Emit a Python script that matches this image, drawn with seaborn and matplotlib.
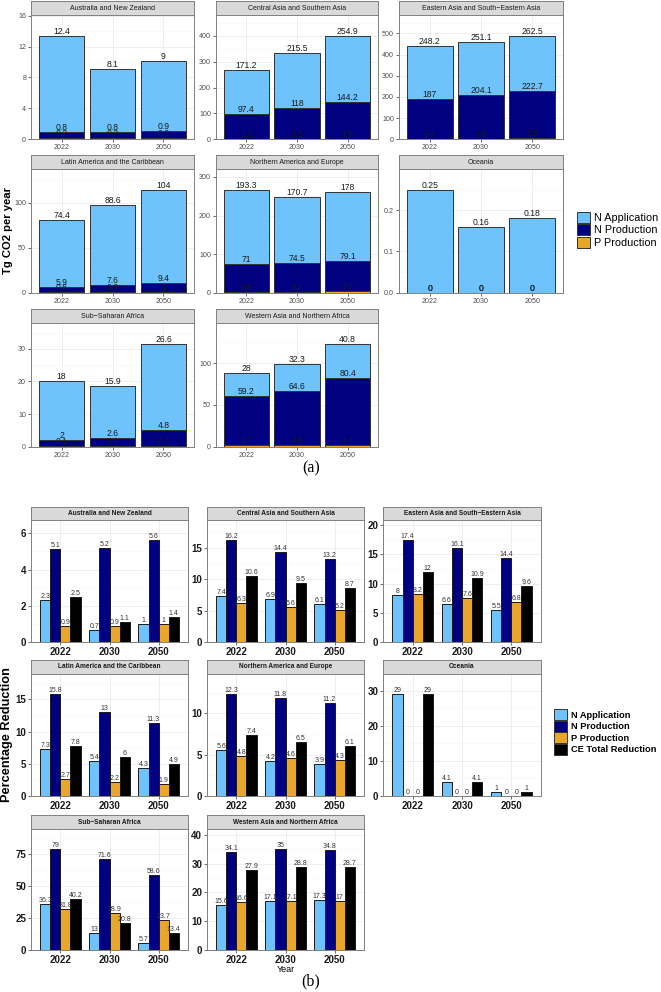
import matplotlib
matplotlib.use("Agg")
import matplotlib.pyplot as plt
from matplotlib.patches import Patch
from matplotlib.ticker import AutoMinorLocator
import pandas as pd
import seaborn as sns

plt.rcParams['font.family'] = ['Liberation Sans', 'DejaVu Sans']

# ---- data ----
regions = [
    "Australia and New Zealand",
    "Central Asia and Southern Asia",
    "Eastern Asia and South\u2212Eastern Asia",
    "Latin America and the Caribbean",
    "Northern America and Europe",
    "Oceania",
    "Sub\u2212Saharan Africa",
    "Western Asia and Northern Africa",
]
years = ["2022", "2030", "2050"]

# (a) emissions, Tg CO2 per year
em_n_application = [[12.4, 8.1, 9], [171.2, 215.5, 254.9], [248.2, 251.1, 262.5], [74.4, 88.6, 104],
                    [193.3, 170.7, 178], [0.25, 0.16, 0.18], [18, 15.9, 26.6], [28, 32.3, 40.8]]
em_n_production = [[0.8, 0.8, 0.9], [97.4, 118, 144.2], [187, 204.1, 222.7], [5.9, 7.6, 9.4],
                   [71, 74.5, 79.1], [0, 0, 0], [2, 2.6, 4.8], [59.2, 64.6, 80.4]]
em_p_production = [[0.2, 0.2, 0.2], [1.3, 1.5, 1.9], [3.3, 3.6, 3.8], [0.6, 0.8, 1],
                   [2.9, 3.1, 3.2], [0, 0, 0], [0.1, 0.1, 0.2], [1.7, 1.9, 2.4]]
em_yticks = [[0, 4, 8, 12, 16], [0, 100, 200, 300, 400], [0, 100, 200, 300, 400, 500], [0, 50, 100],
             [0, 100, 200, 300], [0.0, 0.1, 0.2], [0, 10, 20, 30], [0, 50, 100]]

# (b) percentage reduction
pr_n_application = [[2.3, 0.7, 1], [7.4, 6.9, 6.1], [8, 6.6, 5.5], [7.3, 5.4, 4.3],
                    [5.6, 4.2, 3.9], [29, 4.1, 1], [36.3, 13, 5.7], [15.6, 17.1, 17.3]]
pr_n_production = [[5.1, 5.2, 5.6], [16.2, 14.4, 13.2], [17.4, 16.1, 14.4], [15.8, 13, 11.3],
                   [12.3, 11.8, 11.2], [0, 0, 0], [79, 71.6, 58.6], [34.1, 35, 34.8]]
pr_p_production = [[0.9, 0.9, 1], [6.3, 5.6, 5.2], [8.2, 7.6, 6.8], [2.7, 2.2, 1.9],
                   [4.8, 4.6, 4.3], [0, 0, 0], [31.8, 28.9, 23.7], [16.6, 17.1, 17]]
pr_ce_total = [[2.5, 1.1, 1.4], [10.6, 9.5, 8.7], [12, 10.9, 9.6], [7.8, 6, 4.9],
               [7.4, 6.5, 6.1], [29, 4.1, 1], [40.2, 20.8, 13.4], [27.9, 28.8, 28.7]]
pr_yticks = [[0, 2, 4, 6], [0, 5, 10, 15], [0, 5, 10, 15, 20], [0, 5, 10, 15],
             [0, 5, 10], [0, 10, 20, 30], [0, 25, 50, 75], [0, 10, 20, 30, 40]]

sources = ["N Application", "N Production", "P Production", "CE Total Reduction"]
colors = {"N Application": "#6EC3FC", "N Production": "#000080",
          "P Production": "#E9A62B", "CE Total Reduction": "#000000"}

em_rows = []
for i, r in enumerate(regions):
    for j, y in enumerate(years):
        em_rows.append({"region": r, "year": y,
                        "n_app": em_n_application[i][j],
                        "n_prod": em_n_production[i][j],
                        "p_prod": em_p_production[i][j]})
em = pd.DataFrame(em_rows)
em["low"] = em["p_prod"]
em["mid"] = em["p_prod"] + em["n_prod"]
em["top"] = em["mid"] + em["n_app"]

pr_rows = []
for i, r in enumerate(regions):
    for j, y in enumerate(years):
        for s, vals in zip(sources, [pr_n_application, pr_n_production, pr_p_production, pr_ce_total]):
            pr_rows.append({"region": r, "year": y, "source": s, "value": vals[i][j]})
pr = pd.DataFrame(pr_rows)

# ---- layout (pixels) ----
W, H = 661, 992
fig = plt.figure(figsize=(W / 100, H / 100), dpi=100)


def px_axes(x0, y0, x1, y1):
    return fig.add_axes([x0 / W, 1 - y1 / H, (x1 - x0) / W, (y1 - y0) / H])


def add_strip(x0, y0, x1, y1, text, size, weight):
    s = px_axes(x0, y0, x1, y1)
    s.set_facecolor("#D9D9D9")
    s.set_xticks([])
    s.set_yticks([])
    for sp in s.spines.values():
        sp.set_color("#808080")
        sp.set_linewidth(0.7)
    s.text(0.5, 0.5, text, ha="center", va="center", fontsize=size, weight=weight, color="#1A1A1A",
           transform=s.transAxes)


def style_panel(ax, ymax, ticks, size, color, weight):
    ax.set_xlim(-0.6, 2.6)
    ax.set_ylim(0, ymax)
    ax.set_yticks(ticks)
    ax.yaxis.set_minor_locator(AutoMinorLocator(2))
    ax.set_axisbelow(True)
    ax.grid(which="major", color="#EBEBEB", lw=0.6)
    ax.grid(which="minor", axis="y", color="#F5F5F5", lw=0.4)
    ax.set_xlabel("")
    ax.set_ylabel("")
    ax.tick_params(which="major", length=2, width=0.5, color="#333333", labelsize=size,
                   labelcolor=color, pad=1.5)
    ax.tick_params(which="minor", length=0)
    for lab in ax.get_xticklabels() + ax.get_yticklabels():
        lab.set_fontweight(weight)
    for sp in ax.spines.values():
        sp.set_color("#808080")
        sp.set_linewidth(0.7)


cols_a = [(31, 194), (216, 378), (399, 563)]
rows_a = [(1, 15, 139.3), (155, 169, 292.7), (309, 323, 446.7)]
cols_b = [(31, 188), (207, 364), (383, 541)]
rows_b = [(507, 520, 642.3), (660, 674, 796), (815, 829, 950)]

# ---- (a) stacked emissions ----
for k, r in enumerate(regions):
    x0, x1 = cols_a[k % 3]
    s0, p0, p1 = rows_a[k // 3]
    add_strip(x0, s0, x1, p0, r, 5.0, "normal")
    ax = px_axes(x0, p0, x1, p1)
    sub = em[em["region"] == r]
    for col, src, lab in [("top", "N Application", "n_app"), ("mid", "N Production", "n_prod"),
                          ("low", "P Production", "p_prod")]:
        sns.barplot(data=sub, x="year", y=col, color=colors[src], saturation=1, width=0.9,
                    edgecolor="#333333", linewidth=0.7, errorbar=None, ax=ax)
        ax.bar_label(ax.containers[-1], labels=[f"{v:g}" for v in sub[lab]], fontsize=6.2,
                     padding=0, color="#1A1A1A")
    style_panel(ax, 1.2 * sub["top"].max(), em_yticks[k], 5.1, "#4D4D4D", "normal")

fig.text(8 / W, 1 - 231 / H, "Tg CO2 per year", rotation=90, ha="center", va="center",
         fontsize=8.1, weight="bold", color="#000000")
fig.legend(handles=[Patch(facecolor=colors[s], edgecolor="#333333", lw=0.7, label=s) for s in sources[:3]],
           loc="upper left", bbox_to_anchor=(577 / W, 1 - 212 / H), frameon=False, fontsize=7.8,
           handlelength=1.2, handleheight=1.2, handletextpad=0.4, labelspacing=0.1,
           borderpad=0, borderaxespad=0)
fig.text(311 / W, 1 - 468 / H, "(a)", ha="center", va="center", fontsize=11.5,
         family="Liberation Serif")

# ---- (b) percentage reduction ----
for k, r in enumerate(regions):
    x0, x1 = cols_b[k % 3]
    s0, p0, p1 = rows_b[k // 3]
    add_strip(x0, s0, x1, p0, r, 4.7, "bold")
    ax = px_axes(x0, p0, x1, p1)
    sub = pr[pr["region"] == r]
    sns.barplot(data=sub, x="year", y="value", hue="source", hue_order=sources, palette=colors,
                saturation=1, width=0.82, edgecolor="#1A1A1A", linewidth=0.7, errorbar=None,
                legend=False, ax=ax)
    for c in ax.containers:
        ax.bar_label(c, fmt="%g", fontsize=5, padding=0, color="#333333")
    style_panel(ax, 1.2 * sub["value"].max(), pr_yticks[k], 7, "#1A1A1A", "bold")

fig.text(7.5 / W, 1 - 735 / H, "Percentage Reduction", rotation=90, ha="center", va="center",
         fontsize=9.2, weight="bold", color="#000000")
fig.text(286 / W, 1 - 970 / H, "Year", ha="center", va="center", fontsize=6.5, color="#000000")
fig.legend(handles=[Patch(facecolor=colors[s], edgecolor="#333333", lw=0.7, label=s) for s in sources],
           loc="upper left", bbox_to_anchor=(554 / W, 1 - 709 / H), frameon=False,
           prop={"size": 6.7, "weight": "bold"},
           handlelength=1.45, handleheight=1.45, handletextpad=0.4, labelspacing=0.05,
           borderpad=0, borderaxespad=0)
fig.text(311 / W, 1 - 981 / H, "(b)", ha="center", va="center", fontsize=11.5,
         family="Liberation Serif")

fig.savefig("out.png", dpi=100)
